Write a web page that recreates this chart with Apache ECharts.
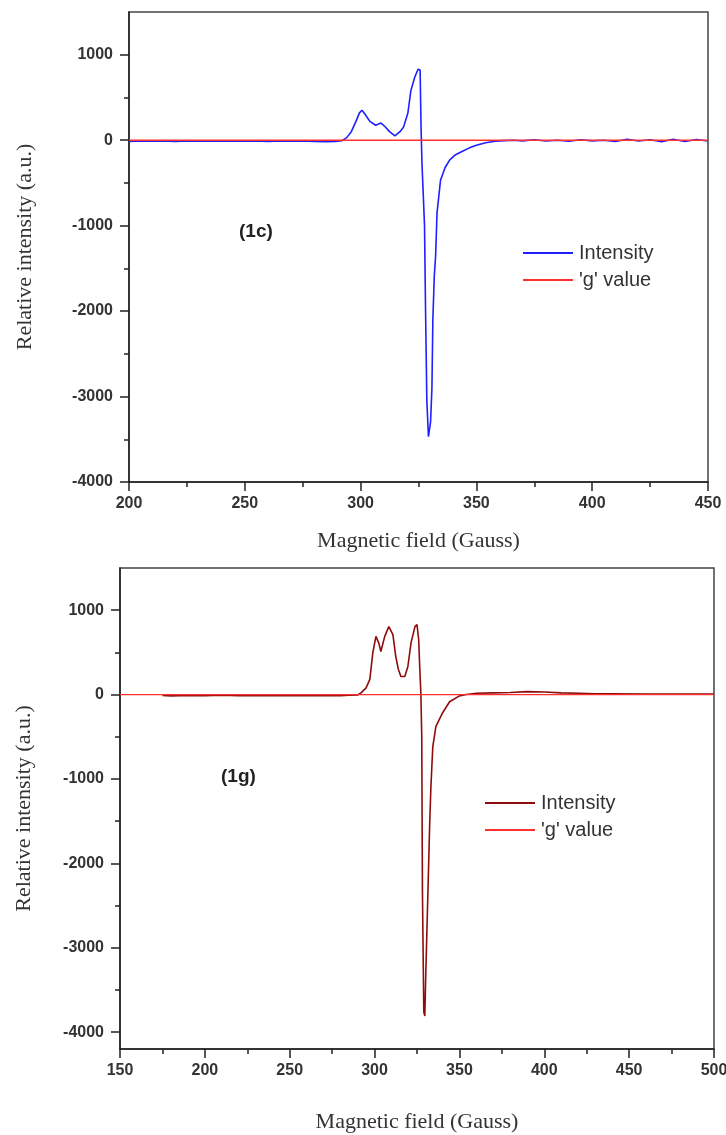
<!DOCTYPE html>
<html>
<head>
<meta charset="utf-8">
<title>EPR spectra (1c) / (1g)</title>
<script src="https://cdn.jsdelivr.net/npm/echarts@6/dist/echarts.min.js"></script>
<style>
    body{ margin:0; background:#fff;}
    #chart-1c{ position:absolute; left:0; top:0; width:726px; height:555px;}
    #chart-1g{ position:absolute; left:0; top:555px; width:726px; height:580px;}
</style>
</head>
<body>
<div id="chart-1c"></div>
<div id="chart-1g"></div>
<script>
// ---- sample (1c) ----
var field1c = [200, 205, 210, 215, 220, 225, 230, 235, 240, 245, 250, 255, 260, 265, 270, 275, 280, 285, 289,
    292, 294, 296, 298, 299.5, 300.6, 301, 302, 304, 306.5, 308.8, 310.5, 312.5, 314.8, 317, 318.5, 320.4,
    321.7, 323.4, 324.8, 325.7, 326.1, 326.5, 327, 327.6, 328, 328.6, 329.3, 330.2, 330.8, 331.2, 331.8,
    332.4, 333, 334.5, 336.5, 338.5, 341, 344, 347, 350, 354, 358, 362, 366, 370, 375, 380, 385, 390, 395,
    400, 405, 410, 415, 420, 425, 430, 435, 440, 445, 450];
var intensity1c = [-15, -10, -12, -8, -14, -10, -12, -9, -13, -10, -12, -8, -14, -10, -12, -9, -15, -18, -15,
    -5, 30, 100, 220, 320, 350, 330, 300, 220, 175, 200, 160, 100, 50, 100, 150, 315,
    580, 740, 830, 820, 150, -270, -600, -1000, -1900, -3050, -3470, -3300, -2900, -2100, -1600,
    -1350, -850, -470, -320, -230, -170, -130, -90, -60, -30, -12, -5, 0, -8, 5, -10, 0, -12, 5,
    -8, 0, -15, 10, -10, 5, -18, 10, -15, 8, -10];

// ---- sample (1g) ----
var field1g = [175, 180, 190, 200, 210, 220, 230, 240, 250, 260, 270, 280, 285, 290, 292, 293.1, 295, 297.2,
    299, 300.8, 302.5, 303.7, 306, 308.4, 310.8, 312.5, 314, 315.5, 317.8, 319.6, 321.5, 323.8, 325, 326,
    326.6, 327.3, 327.8, 328.2, 329, 329.6, 330.2, 331.4, 332.5, 333.2, 334.3, 336.1, 340.1, 344.2, 350,
    354, 360, 370, 380, 390, 400, 410, 420, 430, 440, 460, 480, 500];
var intensity1g = [-10, -15, -10, -12, -8, -14, -10, -12, -9, -13, -10, -12, -8, -5, 20, 35, 80, 180,
    500, 690, 610, 510, 690, 805, 710, 450, 300, 215, 215, 330, 615, 805, 830, 650,
    330, 0, -500, -2320, -3760, -3810, -3290, -2370, -1520, -1090, -620, -380, -215, -85, -15,
    0, 15, 20, 25, 35, 30, 20, 15, 10, 10, 5, 5, 5];

// 'g' value reference line (zero level) spans the whole field range
var gField1c = [200, 450];
var gField1g = [150, 500];
var gLevel = [0, 0];

var yMajor = [-4000, -3000, -2000, -1000, 0, 1000];
var yMinor = [-3500, -2500, -1500, -500, 500];

function pairs(xs, ys) {
    var out = [];
    for (var i = 0; i < xs.length; i++) out.push([xs[i], ys[i]]);
    return out;
}

var tickFont = { fontFamily: 'Liberation Sans', fontWeight: 'bold', fontSize: 16, color: '#333',
    formatter: function (v) { return String(v); } };
var titleFont = { fontFamily: 'Liberation Serif', fontSize: 22, color: '#333' };

function makeOption(c) {
    return {
        animation: false,
        grid: {
            left: c.grid[0], top: c.grid[1], width: c.grid[2], height: c.grid[3],
            show: true, borderColor: '#444', borderWidth: 1.5,
            containLabel: false, outerBoundsMode: 'none'
        },
        legend: {
            orient: 'vertical',
            left: c.legend[0], top: c.legend[1],
            icon: 'rect', itemWidth: 50, itemHeight: 2, itemGap: 7,
            textStyle: { fontFamily: 'Liberation Sans', fontSize: 20, color: '#333', padding: [0, 0, 0, 1] },
            data: ['Intensity', "'g' value"]
        },
        graphic: [{
            type: 'text', left: c.tag[0], top: c.tag[1],
            style: { text: c.tag[2], font: 'bold 19px "Liberation Sans"', fill: '#222' }
        }],
        xAxis: {
            type: 'value', min: c.xMin, max: c.xMax, interval: 50,
            name: 'Magnetic field (Gauss)', nameLocation: 'middle', nameGap: c.xNameGap,
            nameTextStyle: titleFont,
            axisLine: { onZero: false, lineStyle: { color: '#222', width: 1.5 } },
            axisTick: { length: 9, lineStyle: { color: '#222', width: 1.5 } },
            minorTick: { show: true, splitNumber: 2, length: 5, lineStyle: { color: '#222', width: 1.5 } },
            axisLabel: Object.assign({ margin: 14 }, tickFont),
            splitLine: { show: false }
        },
        yAxis: [{
            type: 'value', min: c.yMin, max: 1500,
            name: 'Relative intensity (a.u.)', nameLocation: 'middle', nameGap: c.yNameGap,
            nameTextStyle: titleFont,
            axisLine: { onZero: false, lineStyle: { color: '#222', width: 1.5 } },
            axisTick: { length: 9, customValues: yMajor, lineStyle: { color: '#222', width: 1.5 } },
            axisLabel: Object.assign({ margin: 16, customValues: yMajor }, tickFont),
            splitLine: { show: false }
        }, {
            type: 'value', min: c.yMin, max: 1500, position: 'left',
            axisLine: { show: false },
            axisTick: { show: true, length: 5, customValues: yMinor, lineStyle: { color: '#222', width: 1.5 } },
            axisLabel: { show: false },
            splitLine: { show: false }
        }],
        series: [{
            name: 'Intensity', type: 'line', showSymbol: false, symbol: 'none',
            data: c.data, yAxisIndex: 0,
            lineStyle: { color: c.color, width: 1.6 }, itemStyle: { color: c.color }
        }, {
            name: "'g' value", type: 'line', showSymbol: false, symbol: 'none',
            data: c.gData, yAxisIndex: 0,
            lineStyle: { color: '#ff3030', width: 1.4 }, itemStyle: { color: '#ff3030' }
        }]
    };
}

var chart1c = echarts.init(document.getElementById('chart-1c'));
var chart1g = echarts.init(document.getElementById('chart-1g'));

chart1c.setOption(makeOption({
    grid: [129, 12, 579, 470],
    xMin: 200, xMax: 450, yMin: -4000,
    xNameGap: 48, yNameGap: 93,
    legend: [518, 238],
    tag: [239, 222, '(1c)'],
    color: '#1f1fff',
    data: pairs(field1c, intensity1c),
    gData: pairs(gField1c, gLevel)
}));

chart1g.setOption(makeOption({
    grid: [120, 13, 594, 481],
    xMin: 150, xMax: 500, yMin: -4200,
    xNameGap: 62, yNameGap: 85,
    legend: [480, 233],
    tag: [221, 212, '(1g)'],
    color: '#8e0c0c',
    data: pairs(field1g, intensity1g),
    gData: pairs(gField1g, gLevel)
}));
</script>
</body>
</html>
